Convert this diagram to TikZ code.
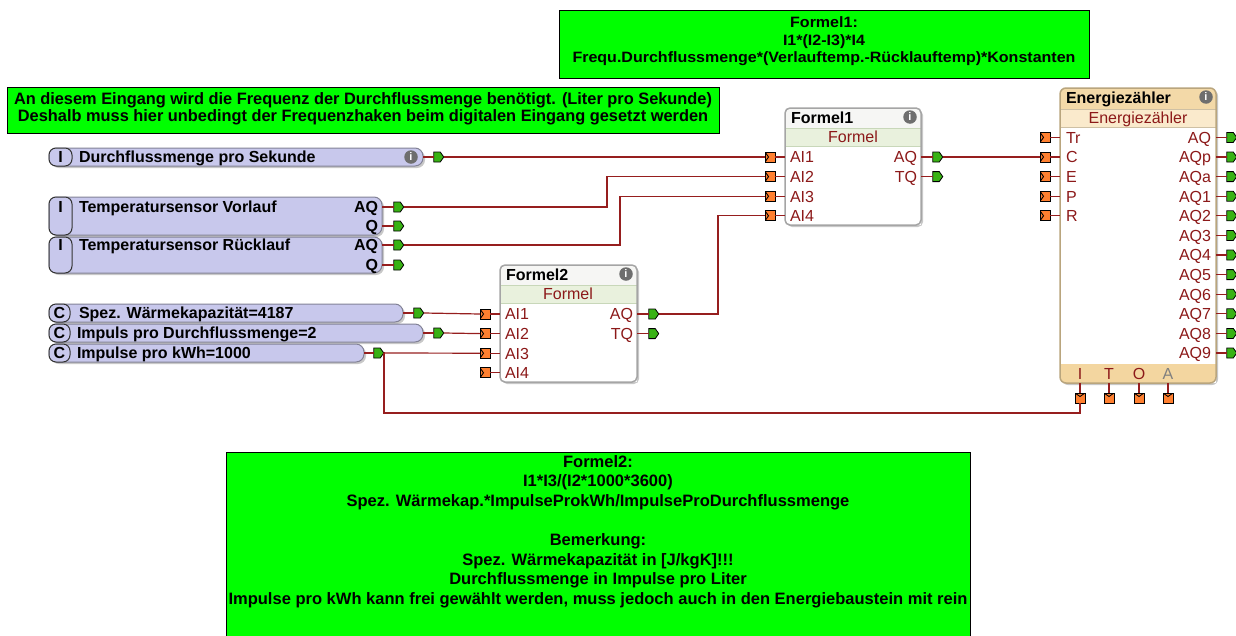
\documentclass[tikz,border=0pt]{standalone}
\usepackage{fontspec}
\setmainfont{Liberation Sans}
\usetikzlibrary{shapes.symbols}
\definecolor{cmtgreen}{RGB}{0,255,0}
\definecolor{wire}{RGB}{150,30,30}
\definecolor{lbl}{RGB}{140,25,25}
\definecolor{lav}{RGB}{200,200,236}
\definecolor{lavborder}{RGB}{130,130,150}
\definecolor{blkborder}{RGB}{165,165,165}
\definecolor{fsub}{RGB}{233,241,221}
\definecolor{fsubline}{RGB}{200,215,185}
\definecolor{ftitle}{RGB}{246,246,244}
\definecolor{etitle}{RGB}{243,217,168}
\definecolor{esub}{RGB}{250,234,204}
\definecolor{ebottom}{RGB}{243,214,160}
\definecolor{eborder}{RGB}{185,165,125}
\definecolor{portorange}{RGB}{255,128,48}
\definecolor{portgreen}{RGB}{56,178,20}
\definecolor{infogray}{RGB}{110,110,110}
\definecolor{shadowc}{RGB}{200,200,200}
\newlength\tmpw
\newcommand\blkfont{\fontsize{16}{16}\selectfont}
\begin{document}%
\settowidth\tmpw{\bfseries\fontsize{15}{17.5}\selectfont Frequ.Durchflussmenge*(Verlauftemp.-Rücklauftemp)*Konstanten}%
\pgfmathsetmacro\sA{503/\tmpw}%
\settowidth\tmpw{\bfseries\fontsize{16.5}{17}\selectfont An diesem Eingang wird die Frequenz der Durchflussmenge benötigt. (Liter pro Sekunde)}%
\pgfmathsetmacro\sB{698/\tmpw}%
\settowidth\tmpw{\bfseries\fontsize{16.5}{19.6}\selectfont Impulse pro kWh kann frei gewählt werden, muss jedoch auch in den Energiebaustein mit rein}%
\pgfmathsetmacro\sC{739/\tmpw}%
\begin{tikzpicture}[x=1pt,y=-1pt,
  wirel/.style={draw=wire,line width=1.2pt},
  lab/.style={inner sep=0pt,outer sep=0pt,font=\blkfont},
  inport/.style={rectangle,draw=black,fill=portorange,minimum width=10pt,minimum height=10pt,inner sep=0pt,outer sep=0pt,line width=0.8pt,
     path picture={\draw[black,line width=0.9pt] (path picture bounding box.north west) -- ++(3.5pt,-5pt) -- (path picture bounding box.south west);}},
  botport/.style={rectangle,draw=black,fill=portorange,minimum width=10pt,minimum height=10pt,inner sep=0pt,outer sep=0pt,line width=0.8pt,
     path picture={\draw[black,line width=0.9pt] (path picture bounding box.north west) -- ++(5pt,-3.5pt) -- (path picture bounding box.north east);}},
  outport/.style={shape=signal,signal to=east,signal pointer angle=110,draw=black,fill=portgreen,minimum width=10pt,minimum height=10pt,inner sep=0pt,outer sep=0pt,line width=0.8pt},
  info/.style={circle,fill=infogray,text=white,font=\bfseries\fontsize{11}{11}\selectfont,inner sep=0pt,minimum size=13.5pt},
  cmt/.style={draw=black,fill=cmtgreen,line width=1pt,inner sep=0pt,outer sep=0pt},
  iblk/.style={draw=lavborder,fill=lav,line width=1pt,rounded corners=8pt,inner sep=0pt,outer sep=0pt},
  ipill/.style={draw=black!80,fill=lav,line width=1pt,rounded corners=7pt,inner sep=0pt,outer sep=0pt,font=\bfseries\blkfont},
  fblk/.style={fill=white,inner sep=0pt,outer sep=0pt}
]
\useasboundingbox (0,0) rectangle (1236,635);

% ---------- comments ----------
\node[cmt,anchor=north west,minimum width=530pt,minimum height=68pt] (c1) at (559,10) {};
\node[inner sep=0pt] (c1t) at (824,41.5) {\scalebox{\sA}[1]{\bfseries\fontsize{15}{17.5}\selectfont\begin{tabular}{@{}c@{}}Formel1:\\ I1*(I2-I3)*I4\\ Frequ.Durchflussmenge*(Verlauftemp.-Rücklauftemp)*Konstanten\end{tabular}}};

\node[cmt,anchor=north west,minimum width=712pt,minimum height=46pt] (c2) at (7,87) {};
\node[inner sep=0pt] (c2t) at (363,110) {\scalebox{\sB}[1]{\bfseries\fontsize{16.5}{17}\selectfont\begin{tabular}{@{}c@{}}An diesem Eingang wird die Frequenz der Durchflussmenge benötigt. (Liter pro Sekunde)\\ Deshalb muss hier unbedingt der Frequenzhaken beim digitalen Eingang gesetzt werden\end{tabular}}};

\fill[cmtgreen] (226,452) rectangle (970,640);
\draw[black,line width=1pt] (226,640) -- (226,452) -- (970,452) -- (970,640);
\node[inner sep=0pt] (c3t) at (598,532) {\scalebox{\sC}[1]{\bfseries\fontsize{16.5}{19.6}\selectfont\begin{tabular}{@{}c@{}}Formel2:\\ I1*I3/(I2*1000*3600)\\ Spez. Wärmekap.*ImpulseProkWh/ImpulseProDurchflussmenge\\ \\ Bemerkung:\\ Spez. Wärmekapazität in [J/kgK]!!!\\ Durchflussmenge in Impulse pro Liter\\ Impulse pro kWh kann frei gewählt werden, muss jedoch auch in den Energiebaustein mit rein\end{tabular}}};

% ---------- input blocks ----------
% Durchflussmenge
\fill[shadowc,rounded corners=8pt] (51,150) rectangle (425,168);
\node[iblk,anchor=north west,minimum width=374pt,minimum height=18pt] (durch) at (49,148) {};
\node[ipill,anchor=north west,minimum width=23pt,minimum height=18pt] (durchI) at (49,148) {I};
\node[lab,anchor=base west,font=\bfseries\blkfont] at (79,162.8) {Durchflussmenge pro Sekunde};
\node[info] (durchinfo) at (411,157) {i};
\node[outport] (durchQ) at (437,157) {};
\draw[wirel] (durch.east |- durchQ) -- (durchQ.west);

% Temperatursensor Vorlauf
\fill[shadowc,rounded corners=8pt] (51,199) rectangle (384,237);
\node[iblk,anchor=north west,minimum width=333pt,minimum height=38pt] (vor) at (49,197) {};
\node[ipill,anchor=north west,minimum width=23pt,minimum height=38pt] (vorI) at (49,197) {};
\node[lab,anchor=base,font=\bfseries\blkfont] at (60.5,212.8) {I};
\node[lab,anchor=base west,font=\bfseries\blkfont] at (79,212.8) {Temperatursensor Vorlauf};
\node[lab,anchor=base east,font=\bfseries\blkfont] at (378,212.8) {AQ};
\node[lab,anchor=base east,font=\bfseries\blkfont] at (378,231.8) {Q};
\node[outport] (vorAQ) at (397,207) {};
\node[outport] (vorQ) at (397,226) {};
\draw[wirel] (vor.east |- vorAQ) -- (vorAQ.west);
\draw[wirel] (vor.east |- vorQ) -- (vorQ.west);

% Temperatursensor Ruecklauf
\fill[shadowc,rounded corners=8pt] (51,239) rectangle (384,275);
\node[iblk,anchor=north west,minimum width=333pt,minimum height=36pt] (rueck) at (49,237) {};
\node[ipill,anchor=north west,minimum width=23pt,minimum height=36pt] (rueckI) at (49,237) {};
\node[lab,anchor=base,font=\bfseries\blkfont] at (60.5,250.8) {I};
\node[lab,anchor=base west,font=\bfseries\blkfont] at (79,250.8) {Temperatursensor Rücklauf};
\node[lab,anchor=base east,font=\bfseries\blkfont] at (378,250.8) {AQ};
\node[lab,anchor=base east,font=\bfseries\blkfont] at (378,270.8) {Q};
\node[outport] (rueckAQ) at (397,245) {};
\node[outport] (rueckQ) at (397,265) {};
\draw[wirel] (rueck.east |- rueckAQ) -- (rueckAQ.west);
\draw[wirel] (rueck.east |- rueckQ) -- (rueckQ.west);

% Constants
\fill[shadowc,rounded corners=8pt] (51,306) rectangle (405,324);
\node[iblk,anchor=north west,minimum width=354pt,minimum height=18pt] (spez) at (49,304) {};
\node[ipill,anchor=north west,minimum width=21pt,minimum height=18pt] (spezC) at (49,304) {C};
\node[lab,anchor=base west,font=\bfseries\blkfont] at (79,318.8) {Spez. Wärmekapazität=4187};
\node[outport] (spezQ) at (417,313) {};
\draw[wirel] (spez.east |- spezQ) -- (spezQ.west);

\fill[shadowc,rounded corners=8pt] (51,326) rectangle (425,344);
\node[iblk,anchor=north west,minimum width=374pt,minimum height=18pt] (imp) at (49,324) {};
\node[ipill,anchor=north west,minimum width=21pt,minimum height=18pt] (impC) at (49,324) {C};
\node[lab,anchor=base west,font=\bfseries\blkfont] at (77,338.8) {Impuls pro Durchflussmenge=2};
\node[outport] (impQ) at (437,333) {};
\draw[wirel] (imp.east |- impQ) -- (impQ.west);

\fill[shadowc,rounded corners=8pt] (51,346) rectangle (366,364);
\node[iblk,anchor=north west,minimum width=315pt,minimum height=18pt] (kwh) at (49,344) {};
\node[ipill,anchor=north west,minimum width=21pt,minimum height=18pt] (kwhC) at (49,344) {C};
\node[lab,anchor=base west,font=\bfseries\blkfont] at (77,358.8) {Impulse pro kWh=1000};
\node[outport] (kwhQ) at (377,353) {};
\draw[wirel] (kwh.east |- kwhQ) -- (kwhQ.west);

% ---------- Formel1 ----------
\fill[shadowc,rounded corners=5pt] (787,110) rectangle (923,227);
\node[fblk,anchor=north west,minimum width=136pt,minimum height=117pt] (f1) at (785,108) {};
\begin{scope}
\clip[rounded corners=5pt] (785,108) rectangle (921,225);
\fill[ftitle] (785,108) rectangle (921,128);
\fill[fsub] (785,128) rectangle (921,146);
\draw[fsubline,line width=0.8pt] (785,128) -- (921,128) (785,146) -- (921,146);
\end{scope}
\draw[blkborder,line width=1.5pt,rounded corners=5pt] (f1.north west) rectangle (f1.south east);
\node[lab,anchor=base west,font=\bfseries\blkfont] at (791,123.8) {Formel1};
\node[info] (f1info) at (910,117) {i};
\node[lab,anchor=base,text=lbl] at (853,142.8) {Formel};
\foreach \k/\n in {1/AI1,2/AI2,3/AI3,4/AI4} {
  \pgfmathsetmacro\yy{157+19.6*(\k-1)}
  \node[inport] (f1i\k) at (770,\yy) {};
  \draw[wirel] (f1i\k.east) -- (f1i\k.east -| f1.west);
  \node[lab,anchor=base west,text=lbl] at (790,\yy+5.8) {\n};
}
\foreach \k/\n in {1/AQ,2/TQ} {
  \pgfmathsetmacro\yy{157+19.6*(\k-1)}
  \node[outport] (f1o\k) at (936,\yy) {};
  \draw[wirel] (f1o\k.west -| f1.east) -- (f1o\k.west);
  \node[lab,anchor=base east,text=lbl] at (917,\yy+5.8) {\n};
}

% ---------- Formel2 ----------
\fill[shadowc,rounded corners=5pt] (502,267) rectangle (639,384);
\node[fblk,anchor=north west,minimum width=137pt,minimum height=117pt] (f2) at (500,265) {};
\begin{scope}
\clip[rounded corners=5pt] (500,265) rectangle (637,382);
\fill[ftitle] (500,265) rectangle (637,285);
\fill[fsub] (500,285) rectangle (637,303);
\draw[fsubline,line width=0.8pt] (500,285) -- (637,285) (500,303) -- (637,303);
\end{scope}
\draw[blkborder,line width=1.5pt,rounded corners=5pt] (f2.north west) rectangle (f2.south east);
\node[lab,anchor=base west,font=\bfseries\blkfont] at (506,280.8) {Formel2};
\node[info] (f2info) at (626,274) {i};
\node[lab,anchor=base,text=lbl] at (568,299.8) {Formel};
\foreach \k/\n in {1/AI1,2/AI2,3/AI3,4/AI4} {
  \pgfmathsetmacro\yy{314+19.6*(\k-1)}
  \node[inport] (f2i\k) at (485,\yy) {};
  \draw[wirel] (f2i\k.east) -- (f2i\k.east -| f2.west);
  \node[lab,anchor=base west,text=lbl] at (505,\yy+5.8) {\n};
}
\foreach \k/\n in {1/AQ,2/TQ} {
  \pgfmathsetmacro\yy{314+19.6*(\k-1)}
  \node[outport] (f2o\k) at (652,\yy) {};
  \draw[wirel] (f2o\k.west -| f2.east) -- (f2o\k.west);
  \node[lab,anchor=base east,text=lbl] at (633,\yy+5.8) {\n};
}

% ---------- Energiezaehler ----------
\fill[shadowc,rounded corners=6pt] (1062,90) rectangle (1218,385);
\node[fblk,anchor=north west,minimum width=156pt,minimum height=295pt] (en) at (1060,88) {};
\begin{scope}
\clip[rounded corners=6pt] (1060,88) rectangle (1216,383);
\fill[etitle] (1060,88) rectangle (1216,109);
\fill[esub] (1060,109) rectangle (1216,127);
\fill[ebottom] (1060,364) rectangle (1216,383);
\draw[eborder!70,line width=0.8pt] (1060,109) -- (1216,109) (1060,127) -- (1216,127);
\end{scope}
\draw[eborder,line width=1.5pt,rounded corners=6pt] (en.north west) rectangle (en.south east);
\node[lab,anchor=base west,font=\bfseries\blkfont] at (1066,103.8) {Energiezähler};
\node[info] (eninfo) at (1206,97) {i};
\node[lab,anchor=base,text=lbl] at (1138,123.8) {Energiezähler};
\foreach \k/\n in {0/Tr,1/C,2/E,3/P,4/R} {
  \pgfmathsetmacro\yy{137.4+19.6*\k}
  \node[inport] (ei\k) at (1045,\yy) {};
  \draw[wirel] (ei\k.east) -- (ei\k.east -| en.west);
  \node[lab,anchor=base west,text=lbl] at (1066,\yy+5.8) {\n};
}
\foreach \k/\n in {0/AQ,1/AQp,2/AQa,3/AQ1,4/AQ2,5/AQ3,6/AQ4,7/AQ5,8/AQ6,9/AQ7,10/AQ8,11/AQ9} {
  \pgfmathsetmacro\yy{137.4+19.6*\k}
  \node[outport] (eo\k) at (1230,\yy) {};
  \draw[wirel] (eo\k.west -| en.east) -- (eo\k.west);
  \node[lab,anchor=base east,text=lbl] at (1211,\yy+5.8) {\n};
}
\foreach \n/\xx/\cc in {I/1080/lbl,T/1109/lbl,O/1139/lbl,A/1168/gray} {
  \node[lab,anchor=base,text=\cc] at (\xx,379.5) {\n};
  \node[botport] (eb\n) at (\xx,398) {};
  \draw[wirel] (eb\n.north |- en.south) -- (eb\n.north);
}

% ---------- connectors ----------
\draw[wirel] (durchQ.east) -- (f1i1.west);
\draw[wirel] (vorAQ.east) -| (607,190) |- (f1i2.west);
\draw[wirel] (rueckAQ.east) -| (620,220) |- (f1i3.west);
\draw[wirel] (f2o1.east) -| (718,260) |- (f1i4.west);
\draw[wirel] (f1o1.east) -- (ei1.west);
\draw[wirel] (spezQ.east) -- (f2i1.west);
\draw[wirel] (impQ.east) -- (f2i2.west);
\draw[wirel] (kwhQ.east) -- (f2i3.west);
\draw[wirel] (kwhQ.east) -| (384,413) -| (ebI.south);
\end{tikzpicture}
\end{document}
